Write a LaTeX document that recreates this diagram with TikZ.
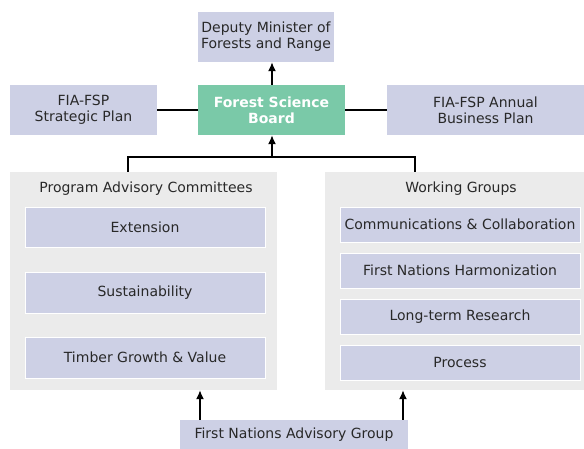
\documentclass[tikz,border=0pt]{standalone}
\usepackage{fontspec}
\setmainfont{DejaVu Sans}
\usepackage{xcolor}
\usepackage{tikz}
\usetikzlibrary{arrows.meta}

\definecolor{boxblue}{RGB}{205,208,229}
\definecolor{boardgreen}{RGB}{122,201,168}
\definecolor{panelgray}{RGB}{235,235,235}
\definecolor{textgray}{RGB}{40,40,40}

\begin{document}
\begin{tikzpicture}[x=1pt,y=-1pt,
		font=\fontsize{14}{16}\selectfont, text=textgray,
		box/.style={fill=boxblue, align=center, inner sep=0pt},
		subbox/.style={box, draw=white, line width=0.8pt, minimum width=240pt},
		panel/.style={fill=panelgray, inner sep=0pt},
		link/.style={line width=1.5pt, black},
		tip/.style={-{Latex[length=9pt,width=8pt]}}]
				\useasboundingbox (0,0) rectangle (584,449);

				% top row
				\node[box, minimum width=136pt, minimum height=50pt] (deputy) at (266,37) {Deputy Minister of\\Forests and Range};
				\node[box, minimum width=147pt, minimum height=50pt] (strategic) at (83.5,110) {FIA-FSP\\Strategic Plan};
				\node[box, fill=boardgreen, text=white, font=\fontsize{14}{16}\selectfont\bfseries, minimum width=147pt, minimum height=50pt] (board) at (271.5,110) {Forest Science\\Board};
				\node[box, minimum width=197pt, minimum height=50pt] (business) at (485.5,110) {FIA-FSP Annual\\Business Plan};

				% panels
				\node[panel, minimum width=267pt, minimum height=218pt] (pac) at (143.5,281) {};
				\node[panel, minimum width=259pt, minimum height=218pt] (wg) at (454.5,281) {};
				\node (pactitle) at (146,189) {Program Advisory Committees};
				\node (wgtitle) at (461,189) {Working Groups};

				\node[subbox, minimum height=40pt] (extension) at (145,227.5) {Extension};
				\node[subbox, minimum height=41pt] (sustain) at (145,292.5) {Sustainability};
				\node[subbox, minimum height=41pt] (timber) at (145,357.5) {Timber Growth \& Value};

				\node[subbox, minimum height=35pt] (comm) at (460,224.5) {Communications \& Collaboration};
				\node[subbox, minimum height=35pt] (harmon) at (460,270.5) {First Nations Harmonization};
				\node[subbox, minimum height=35pt] (longterm) at (460,316.5) {Long-term Research};
				\node[subbox, minimum height=35pt] (process) at (460,362.5) {Process};

				\node[box, minimum width=228pt, minimum height=30pt] (fnag) at (294,435) {First Nations Advisory Group};

				% connectors
				\coordinate (join) at (272,157);
				\draw[link, tip] (board.north -| join) -- (deputy.south -| join);
				\draw[link] (strategic) -- (board);
				\draw[link] (board) -- (business);
				\draw[link, tip] (join) -- (board.south -| join);
				\draw[link] (pac.north -| 128,0) |- (join) -| (wg.north -| 415,0);
				\draw[link, tip] (fnag.north -| 200,0) -- (pac.south -| 200,0);
				\draw[link, tip] (fnag.north -| 403,0) -- (wg.south -| 403,0);
			\end{tikzpicture}
\end{document}
